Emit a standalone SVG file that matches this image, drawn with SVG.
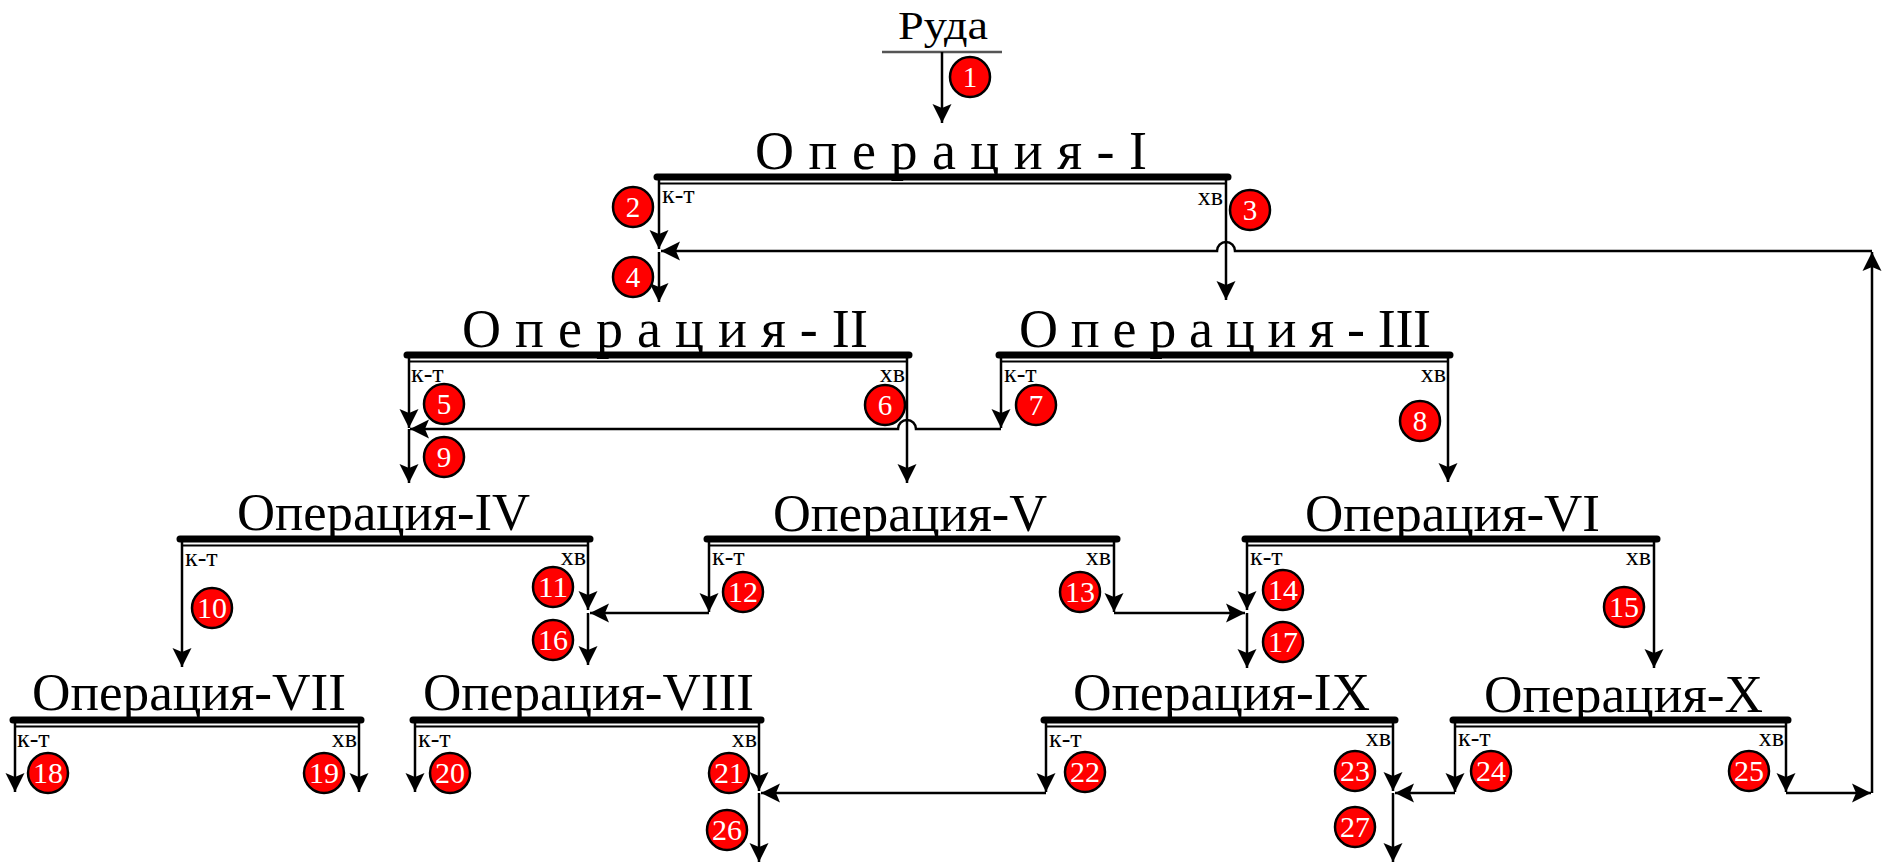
<svg xmlns="http://www.w3.org/2000/svg" width="1883" height="864" viewBox="0 0 1883 864">
<style>
.bg{fill:#fff}
.bar{stroke:#000;stroke-width:7;stroke-linecap:round}
.bar2{stroke:#000;stroke-width:2}
.title{font-family:"Liberation Serif",serif;font-size:52px;fill:#000}
.titlesp{font-family:"Liberation Serif",serif;font-size:54px;fill:#000}
.lbl{font-family:"Liberation Serif",serif;font-size:26px;fill:#000}
.c{stroke:#000;stroke-width:2.5;fill:none}
.num circle{fill:#f00;stroke:#000;stroke-width:2.5}
.num text{font-family:"Liberation Serif",serif;font-size:29px;fill:#fff;text-anchor:middle}
</style>
<defs>
<marker id="ah" markerUnits="userSpaceOnUse" markerWidth="22" markerHeight="22" viewBox="-21 -11 22 22" refX="0" refY="0" orient="auto">
<path d="M0,0 L-19,-9.5 L-15,0 L-19,9.5 Z" fill="#000"/>
</marker>
</defs>
<rect class="bg" x="0" y="0" width="1883" height="864"/>

<g id="ore">
<text x="898" y="39" font-family="Liberation Serif, serif" font-size="40" textLength="90" lengthAdjust="spacingAndGlyphs">Руда</text>
<line x1="882" y1="52" x2="1002" y2="52" stroke="#555" stroke-width="2.5"/>
</g>

<g id="op1">
<text class="titlesp" x="755" y="169" textLength="392" lengthAdjust="spacing">О п е р а ц и я - I</text>
<line class="bar" x1="657" y1="177" x2="1228" y2="177"/>
<line class="bar2" x1="659" y1="183.5" x2="1226" y2="183.5"/>
<text class="lbl" x="662" y="203">к-т</text>
<text class="lbl" x="1223" y="205" text-anchor="end">хв</text>
</g>

<g id="op2">
<text class="titlesp" x="462" y="347" textLength="406" lengthAdjust="spacing">О п е р а ц и я - II</text>
<line class="bar" x1="407" y1="355" x2="909" y2="355"/>
<line class="bar2" x1="409" y1="361.5" x2="907" y2="361.5"/>
<text class="lbl" x="411" y="382">к-т</text>
<text class="lbl" x="905" y="382" text-anchor="end">хв</text>
</g>

<g id="op3">
<text class="titlesp" x="1019" y="347" textLength="412" lengthAdjust="spacing">О п е р а ц и я - III</text>
<line class="bar" x1="999" y1="355" x2="1450" y2="355"/>
<line class="bar2" x1="1001" y1="361.5" x2="1448" y2="361.5"/>
<text class="lbl" x="1004" y="382">к-т</text>
<text class="lbl" x="1446" y="382" text-anchor="end">хв</text>
</g>

<g id="op4">
<text class="title" x="237" y="530" textLength="293" lengthAdjust="spacingAndGlyphs">Операция-IV</text>
<line class="bar" x1="180" y1="539" x2="590" y2="539"/>
<line class="bar2" x1="182" y1="545.5" x2="588" y2="545.5"/>
<text class="lbl" x="185" y="566">к-т</text>
<text class="lbl" x="586" y="565" text-anchor="end">хв</text>
</g>

<g id="op5">
<text class="title" x="773" y="531" textLength="274" lengthAdjust="spacingAndGlyphs">Операция-V</text>
<line class="bar" x1="707" y1="539" x2="1117" y2="539"/>
<line class="bar2" x1="709" y1="545.5" x2="1114" y2="545.5"/>
<text class="lbl" x="712" y="565">к-т</text>
<text class="lbl" x="1111" y="565" text-anchor="end">хв</text>
</g>

<g id="op6">
<text class="title" x="1305" y="531" textLength="295" lengthAdjust="spacingAndGlyphs">Операция-VI</text>
<line class="bar" x1="1245" y1="539" x2="1657" y2="539"/>
<line class="bar2" x1="1247" y1="545.5" x2="1654" y2="545.5"/>
<text class="lbl" x="1250" y="565">к-т</text>
<text class="lbl" x="1651" y="565" text-anchor="end">хв</text>
</g>

<g id="op7">
<text class="title" x="32" y="710" textLength="314" lengthAdjust="spacingAndGlyphs">Операция-VII</text>
<line class="bar" x1="13" y1="720" x2="361" y2="720"/>
<line class="bar2" x1="15" y1="726.5" x2="359" y2="726.5"/>
<text class="lbl" x="17" y="747">к-т</text>
<text class="lbl" x="357" y="747" text-anchor="end">хв</text>
</g>

<g id="op8">
<text class="title" x="423" y="710" textLength="331" lengthAdjust="spacingAndGlyphs">Операция-VIII</text>
<line class="bar" x1="413" y1="720" x2="761" y2="720"/>
<line class="bar2" x1="415" y1="726.5" x2="759" y2="726.5"/>
<text class="lbl" x="418" y="747">к-т</text>
<text class="lbl" x="757" y="747" text-anchor="end">хв</text>
</g>

<g id="op9">
<text class="title" x="1073" y="710" textLength="297" lengthAdjust="spacingAndGlyphs">Операция-IX</text>
<line class="bar" x1="1044" y1="720" x2="1395" y2="720"/>
<line class="bar2" x1="1046" y1="726.5" x2="1393" y2="726.5"/>
<text class="lbl" x="1049" y="747">к-т</text>
<text class="lbl" x="1391" y="746" text-anchor="end">хв</text>
</g>

<g id="op10">
<text class="title" x="1484" y="712" textLength="279" lengthAdjust="spacingAndGlyphs">Операция-X</text>
<line class="bar" x1="1453" y1="720" x2="1788" y2="720"/>
<line class="bar2" x1="1455" y1="726.5" x2="1786" y2="726.5"/>
<text class="lbl" x="1458" y="746">к-т</text>
<text class="lbl" x="1784" y="746" text-anchor="end">хв</text>
</g>

<g id="connectors" marker-end="url(#ah)">
<path class="c" d="M942,52 V123"/>
<path class="c" d="M659,177 V249"/>
<path class="c" d="M659,252 V302"/>
<path class="c" d="M1226,177 V300"/>
<path class="c" d="M1001,355 V428"/>
<path class="c" d="M1001,429 H916 A9,9 0 0 0 898,429 H410"/>
<path class="c" d="M409,355 V428"/>
<path class="c" d="M409,429 V483"/>
<path class="c" d="M907,355 V483"/>
<path class="c" d="M1448,355 V482"/>
<path class="c" d="M182,539 V667"/>
<path class="c" d="M588,539 V610"/>
<path class="c" d="M588,613 V665"/>
<path class="c" d="M709,539 V612"/>
<path class="c" d="M709,613 H590"/>
<path class="c" d="M1114,539 V612"/>
<path class="c" d="M1114,613 H1245"/>
<path class="c" d="M1247,539 V610"/>
<path class="c" d="M1247,613 V668"/>
<path class="c" d="M1654,539 V668"/>
<path class="c" d="M15,720 V792"/>
<path class="c" d="M359,720 V792"/>
<path class="c" d="M415,720 V792"/>
<path class="c" d="M759,720 V791"/>
<path class="c" d="M759,793 V862"/>
<path class="c" d="M1046,720 V792"/>
<path class="c" d="M1046,793 H761"/>
<path class="c" d="M1393,720 V791"/>
<path class="c" d="M1393,793 V862"/>
<path class="c" d="M1455,720 V792"/>
<path class="c" d="M1455,793 H1395"/>
<path class="c" d="M1786,720 V792"/>
<path class="c" d="M1786,793 H1871"/>
<path class="c" d="M1872,793 V252"/>
<path class="c" d="M1872,251 H1235 A9,9 0 0 0 1217,251 H661"/>
</g>

<g id="streams" class="num">
<g><circle cx="970" cy="77" r="20"/><text x="970" y="87">1</text></g>
<g><circle cx="633" cy="207" r="20"/><text x="633" y="217">2</text></g>
<g><circle cx="1250" cy="210" r="20"/><text x="1250" y="220">3</text></g>
<g><circle cx="633" cy="277" r="20"/><text x="633" y="287">4</text></g>
<g><circle cx="444" cy="404" r="20"/><text x="444" y="414">5</text></g>
<g><circle cx="885" cy="405" r="20"/><text x="885" y="415">6</text></g>
<g><circle cx="1036" cy="405" r="20"/><text x="1036" y="415">7</text></g>
<g><circle cx="1420" cy="421" r="20"/><text x="1420" y="431">8</text></g>
<g><circle cx="444" cy="457" r="20"/><text x="444" y="467">9</text></g>
<g><circle cx="212" cy="608" r="20"/><text x="212" y="618" textLength="30" lengthAdjust="spacingAndGlyphs">10</text></g>
<g><circle cx="553" cy="587" r="20"/><text x="553" y="597" textLength="30" lengthAdjust="spacingAndGlyphs">11</text></g>
<g><circle cx="743" cy="592" r="20"/><text x="743" y="602" textLength="30" lengthAdjust="spacingAndGlyphs">12</text></g>
<g><circle cx="1080" cy="592" r="20"/><text x="1080" y="602" textLength="30" lengthAdjust="spacingAndGlyphs">13</text></g>
<g><circle cx="1283" cy="590" r="20"/><text x="1283" y="600" textLength="30" lengthAdjust="spacingAndGlyphs">14</text></g>
<g><circle cx="1624" cy="607" r="20"/><text x="1624" y="617" textLength="30" lengthAdjust="spacingAndGlyphs">15</text></g>
<g><circle cx="553" cy="640" r="20"/><text x="553" y="650" textLength="30" lengthAdjust="spacingAndGlyphs">16</text></g>
<g><circle cx="1283" cy="642" r="20"/><text x="1283" y="652" textLength="30" lengthAdjust="spacingAndGlyphs">17</text></g>
<g><circle cx="48" cy="773" r="20"/><text x="48" y="783" textLength="30" lengthAdjust="spacingAndGlyphs">18</text></g>
<g><circle cx="324" cy="773" r="20"/><text x="324" y="783" textLength="30" lengthAdjust="spacingAndGlyphs">19</text></g>
<g><circle cx="450" cy="773" r="20"/><text x="450" y="783" textLength="30" lengthAdjust="spacingAndGlyphs">20</text></g>
<g><circle cx="729" cy="773" r="20"/><text x="729" y="783" textLength="30" lengthAdjust="spacingAndGlyphs">21</text></g>
<g><circle cx="1085" cy="772" r="20"/><text x="1085" y="782" textLength="30" lengthAdjust="spacingAndGlyphs">22</text></g>
<g><circle cx="1355" cy="771" r="20"/><text x="1355" y="781" textLength="30" lengthAdjust="spacingAndGlyphs">23</text></g>
<g><circle cx="1491" cy="771" r="20"/><text x="1491" y="781" textLength="30" lengthAdjust="spacingAndGlyphs">24</text></g>
<g><circle cx="1749" cy="771" r="20"/><text x="1749" y="781" textLength="30" lengthAdjust="spacingAndGlyphs">25</text></g>
<g><circle cx="727" cy="830" r="20"/><text x="727" y="840" textLength="30" lengthAdjust="spacingAndGlyphs">26</text></g>
<g><circle cx="1355" cy="827" r="20"/><text x="1355" y="837" textLength="30" lengthAdjust="spacingAndGlyphs">27</text></g>
</g>
</svg>
